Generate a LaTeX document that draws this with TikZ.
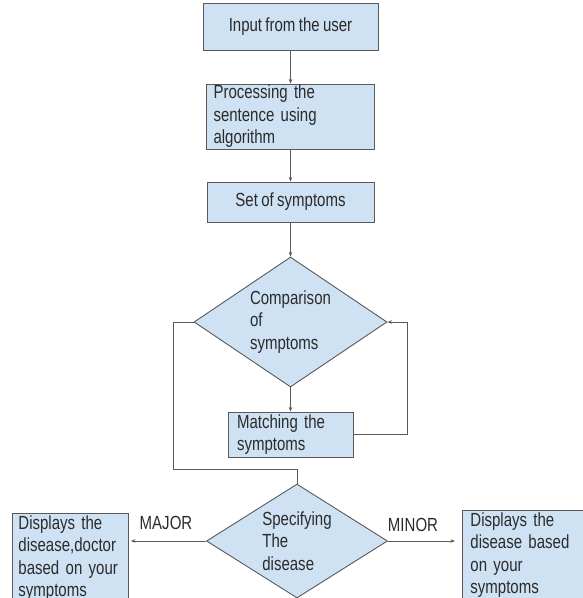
\documentclass[tikz,border=0pt]{standalone}
\usepackage{fontspec}
\setmainfont{Liberation Sans}[FakeStretch=0.79, WordSpace=0.8]
\usetikzlibrary{shapes.geometric,arrows.meta}
\definecolor{boxfill}{HTML}{CFE2F3}
\definecolor{edgegray}{HTML}{595959}
\definecolor{textgray}{HTML}{2B2B2B}

\begin{document}
\begin{tikzpicture}[x=1pt, y=-1pt,
  font=\fontsize{19}{22.5}\selectfont, text=textgray,
  >={Stealth[length=4.5pt,width=3.5pt]},
  box/.style={draw=edgegray, fill=boxfill, line width=0.9pt, rectangle},
  decision/.style={draw=edgegray, fill=boxfill, line width=0.9pt, diamond,
    inner sep=0pt, align=left},
  flow/.style={draw=edgegray, line width=0.8pt}]
  \clip (0, 0) rectangle (583, 598);

  \node[box, minimum width=175, minimum height=47] (input) at (290.5, 26.5)
    {Input from the user};
  \node[box, minimum width=168, minimum height=65, text width=154, align=left,
    inner xsep=7pt, inner ysep=0pt] (process) at (290.5, 116.5)
    {Processing the\\sentence using\\algorithm};
  \node[box, minimum width=167, minimum height=40] (symptoms) at (290.5, 202)
    {Set of symptoms};

  \node[decision, aspect=1.48, minimum width=193, minimum height=130] (compare)
    at (290.5, 322) {Comparison\\of\\symptoms};
  \node[box, minimum width=125, minimum height=45, text width=107, align=left,
    inner xsep=9pt, inner ysep=0pt] (match) at (290.5, 434.5)
    {Matching the\\symptoms};

  \node[decision, aspect=1.59, minimum width=181, minimum height=114] (disease)
    at (297, 541) {Specifying\\The\\disease};

  \node[box, anchor=north west, text width=104, align=left, inner xsep=6pt,
    inner ysep=2pt] (major box) at (12, 513)
    {Displays the\\disease,doctor\\based on your\\symptoms};
  \node[box, anchor=north west, text width=112, align=left, inner xsep=8pt,
    inner ysep=2pt] (minor box) at (462, 510)
    {Displays the\\disease based\\on your\\symptoms};

  \node (major) at (166, 523) {MAJOR};
  \node (minor) at (413, 525) {MINOR};

  \coordinate (left corner) at (173, 469);

  \draw[flow, ->] (input) -- (process);
  \draw[flow, ->] (process) -- (symptoms);
  \draw[flow, ->] (symptoms) -- (compare);
  \draw[flow, ->] (compare) -- (match);
  \draw[flow, ->] (match.east) -- ++(54, 0) |- (compare.east);
  \draw[flow] (compare.west) -| (left corner) -| (disease.north);
  \draw[flow, ->, shorten >=2pt] (disease.west) -- (disease.west -| major box.east);
  \draw[flow, ->, shorten >=7pt] (disease.east) -- (disease.east -| minor box.west);
\end{tikzpicture}
\end{document}
